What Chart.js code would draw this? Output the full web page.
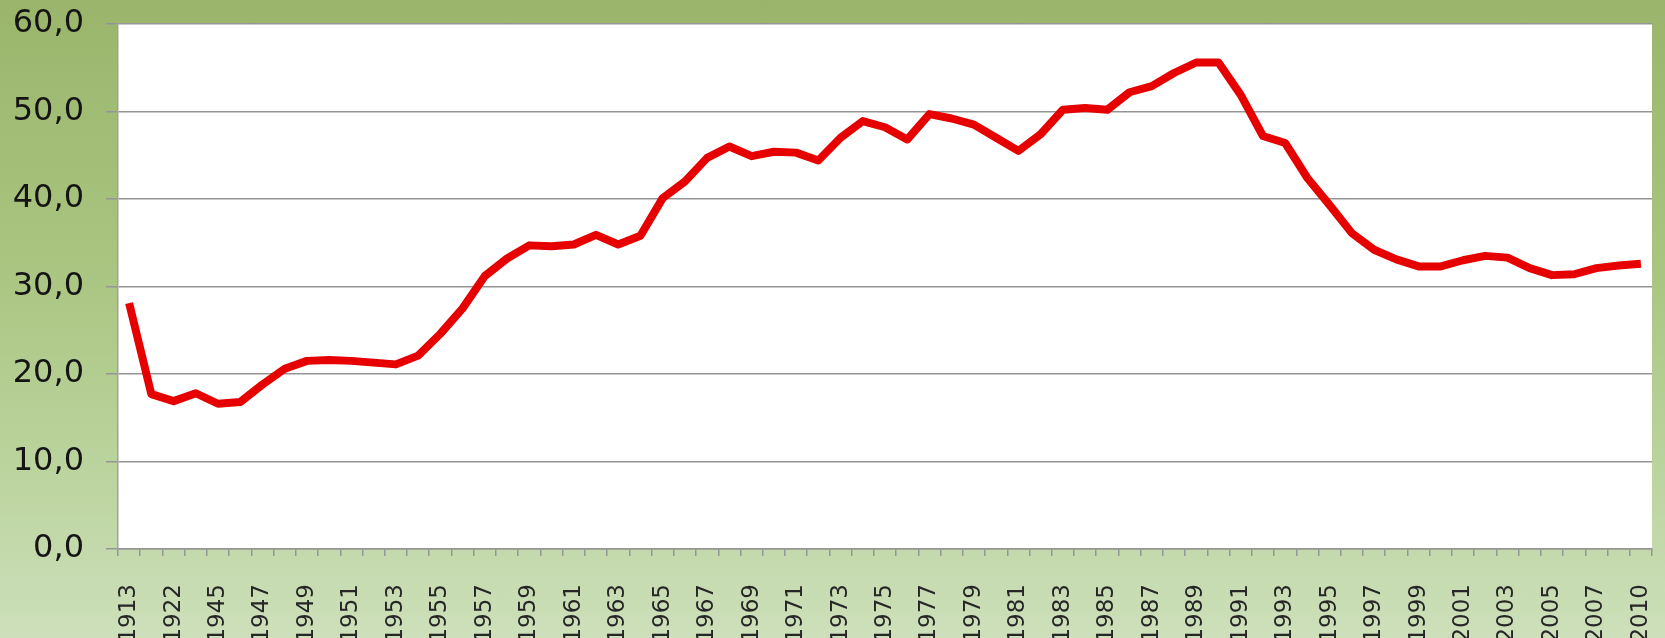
<!DOCTYPE html>
<html>
<head>
<meta charset="utf-8">
<script src="https://cdn.jsdelivr.net/npm/chart.js@4.4.1/dist/chart.umd.min.js"></script>
<style>
  html, body { margin: 0; padding: 0; overflow: hidden; }
  body {
    width: 1665px; height: 638px;
    background: linear-gradient(to bottom, #9ab56b 0%, #a9c47f 40%, #bcd49f 75%, #cde0bb 100%);
  }
  #wrap { position: relative; width: 1665px; height: 638px; }
</style>
</head>
<body>
<div id="wrap"><canvas id="chart"></canvas></div>
<script>
// ============================================================================
// Serie historica 1913-2010 (valores em %)
// ============================================================================

const years = [
  '1913', '1920', '1922', '1938',
  '1945', '1946', '1947', '1948', '1949', '1950', '1951', '1952', '1953', '1954',
  '1955', '1956', '1957', '1958', '1959', '1960', '1961', '1962', '1963', '1964',
  '1965', '1966', '1967', '1968', '1969', '1970', '1971', '1972', '1973', '1974',
  '1975', '1976', '1977', '1978', '1979', '1980', '1981', '1982', '1983', '1984',
  '1985', '1986', '1987', '1988', '1989', '1990', '1991', '1992', '1993', '1994',
  '1995', '1996', '1997', '1998', '1999', '2000', '2001', '2002', '2003', '2004',
  '2005', '2006', '2007', '2008', '2010'
];

const values = [
  28.1, 17.7, 16.9, 17.8,
  16.6, 16.8, 18.8, 20.6, 21.5, 21.6, 21.5, 21.3, 21.1, 22.1,
  24.6, 27.5, 31.2, 33.2, 34.7, 34.6, 34.8, 35.9, 34.8, 35.8,
  40.1, 42.0, 44.7, 46.0, 44.9, 45.4, 45.3, 44.4, 47.0, 48.9,
  48.2, 46.8, 49.7, 49.2, 48.5, 47.0, 45.5, 47.4, 50.2, 50.4,
  50.2, 52.2, 52.9, 54.4, 55.6, 55.6, 51.9, 47.2, 46.4, 42.4,
  39.3, 36.1, 34.2, 33.1, 32.3, 32.3, 33.0, 33.5, 33.3, 32.1,
  31.3, 31.4, 32.1, 32.4, 32.6
];

const yTicks = [0, 10, 20, 30, 40, 50, 60];

const GRID = '#959595';

// fundo branco da area de plotagem
const plotBackground = {
  id: 'plotBackground',
  beforeDraw(chart) {
    const { ctx, chartArea: a } = chart;
    ctx.save();
    ctx.fillStyle = '#ffffff';
    ctx.fillRect(a.left, a.top, a.right - a.left, a.bottom - a.top);
    ctx.restore();
  }
};

new Chart(document.getElementById('chart'), {
  type: 'line',
  data: {
    labels: years,
    datasets: [{
      data: values,
      borderColor: '#e60000',
      borderWidth: 8,
      borderJoinStyle: 'round',
      borderCapStyle: 'butt',
      pointRadius: 0,
      tension: 0,
      fill: false
    }]
  },
  options: {
    responsive: true,
    maintainAspectRatio: false,
    animation: false,
    layout: { padding: { top: 24, right: 13, left: 0, bottom: 0 } },
    plugins: {
      legend: { display: false },
      tooltip: { enabled: false }
    },
    scales: {
      x: {
        offset: true,
        grid: {
          offset: true,
          drawOnChartArea: false,
          drawTicks: true,
          tickLength: 7,
          color: GRID,
          lineWidth: 1.5
        },
        border: { display: true, color: GRID, width: 1.5 },
        ticks: {
          autoSkip: false,
          minRotation: 90,
          maxRotation: 90,
          padding: 28,
          color: '#262626',
          font: { family: 'DejaVu Sans', size: 23 },
          callback: (v, i) => (i % 2 === 0 ? years[i] : '')
        },
        afterFit: (scale) => {
          scale.height = 89;
          scale.paddingLeft = 0;
          scale.paddingRight = 0;
        }
      },
      y: {
        min: 0,
        max: 60,
        afterBuildTicks: (scale) => { scale.ticks = yTicks.map(v => ({ value: v })); },
        grid: {
          drawTicks: true,
          tickLength: 12,
          color: GRID,
          lineWidth: 1.5
        },
        border: { display: true, color: '#a0a0a0', width: 1.5 },
        ticks: {
          padding: 22,
          color: '#141414',
          font: { family: 'DejaVu Sans', size: 32 },
          callback: v => v.toFixed(1).replace('.', ',')
        },
        afterFit: (scale) => {
          scale.width = 118;
          scale.paddingTop = 0;
          scale.paddingBottom = 0;
        }
      }
    }
  },
  plugins: [plotBackground]
});
</script>
</body>
</html>
